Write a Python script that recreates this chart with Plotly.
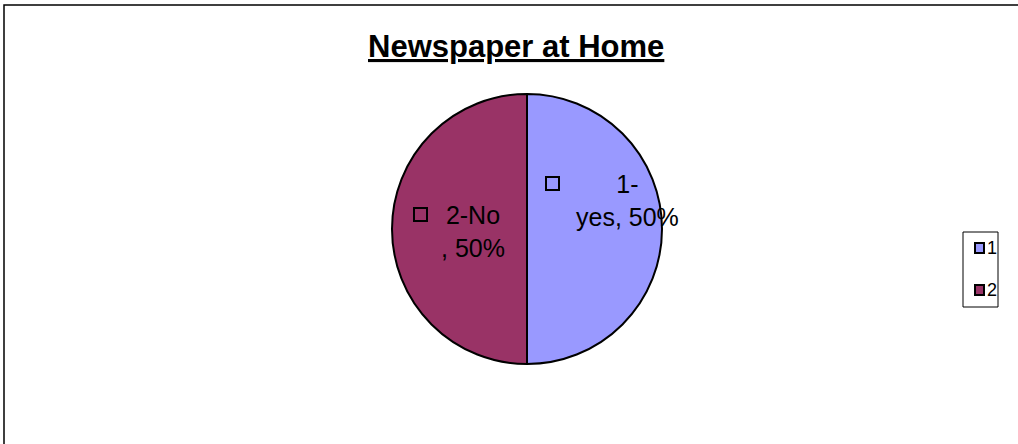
import plotly.graph_objects as go

# ---- data ----
categories = ["1-yes", "2-No"]
legend_labels = ["1", "2"]
values = [50, 50]
colors = ["#9999FF", "#993366"]
title_text = "Newspaper at Home"

W, H = 1018, 444
total = sum(values)
pcts = [round(v * 100 / total) for v in values]

fig = go.Figure()
fig.add_trace(go.Pie(
    labels=categories,
    values=values,
    sort=False,
    direction="clockwise",
    rotation=0,
    marker=dict(colors=colors, line=dict(color="black", width=2)),
    textinfo="none",
    hoverinfo="label+percent",
    showlegend=False,
    domain=dict(x=[(527 - 135) / W, (527 + 135) / W],
                y=[1 - (229 + 135) / H, 1 - (229 - 135) / H]),
))

def px(x):
    return x / W

def py(y):
    return 1 - y / H

shapes = []
annotations = []

# frame
shapes.append(dict(type="rect", xref="paper", yref="paper",
                   x0=px(4), x1=px(1030), y0=py(460), y1=py(5),
                   line=dict(color="#000000", width=1.5)))

# title
annotations.append(dict(xref="paper", yref="paper", x=px(516), y=py(46),
                        text="<b><u>" + title_text + "</u></b>", showarrow=False,
                        font=dict(family="Liberation Sans, Arial", size=31, color="black"),
                        xanchor="center", yanchor="middle"))

# data labels
lbl_font = dict(family="Liberation Sans, Arial", size=25, color="black")
c1 = categories[0].split("-")
text1 = f"{c1[0]}-<br>{c1[1]}, {pcts[0]}%"
text2 = f"{categories[1]}<br>, {pcts[1]}%"
annotations.append(dict(xref="paper", yref="paper", x=px(627), y=py(201),
                        text=text1, showarrow=False, font=lbl_font,
                        xanchor="center", yanchor="middle", align="center"))
annotations.append(dict(xref="paper", yref="paper", x=px(473), y=py(231),
                        text=text2, showarrow=False, font=lbl_font,
                        xanchor="center", yanchor="middle", align="center"))
# small hollow key squares inside labels
for (x0, y0) in [(546, 177), (414, 208)]:
    shapes.append(dict(type="rect", xref="paper", yref="paper",
                       x0=px(x0), x1=px(x0 + 13), y0=py(y0 + 13), y1=py(y0),
                       line=dict(color="black", width=2), fillcolor="rgba(0,0,0,0)"))

# legend box
shapes.append(dict(type="rect", xref="paper", yref="paper",
                   x0=px(963), x1=px(998), y0=py(307), y1=py(232),
                   line=dict(color="black", width=1), fillcolor="white"))
for i, (lab, col) in enumerate(zip(legend_labels, colors)):
    yc = 248 + i * 42
    shapes.append(dict(type="rect", xref="paper", yref="paper",
                       x0=px(975), x1=px(984), y0=py(yc + 5), y1=py(yc - 5),
                       line=dict(color="black", width=2), fillcolor=col))
    annotations.append(dict(xref="paper", yref="paper", x=px(985), y=py(yc),
                            text=lab, showarrow=False,
                            font=dict(family="Liberation Sans, Arial", size=18, color="black"),
                            xanchor="left", yanchor="middle"))

fig.update_layout(
    width=W, height=H,
    margin=dict(l=0, r=0, t=0, b=0),
    paper_bgcolor="white",
    plot_bgcolor="white",
    shapes=shapes,
    annotations=annotations,
    showlegend=False,
)

fig.write_html("out.html",
               config={"displayModeBar": False},
               post_script="document.body.style.margin='0';document.body.style.overflow='hidden';")
